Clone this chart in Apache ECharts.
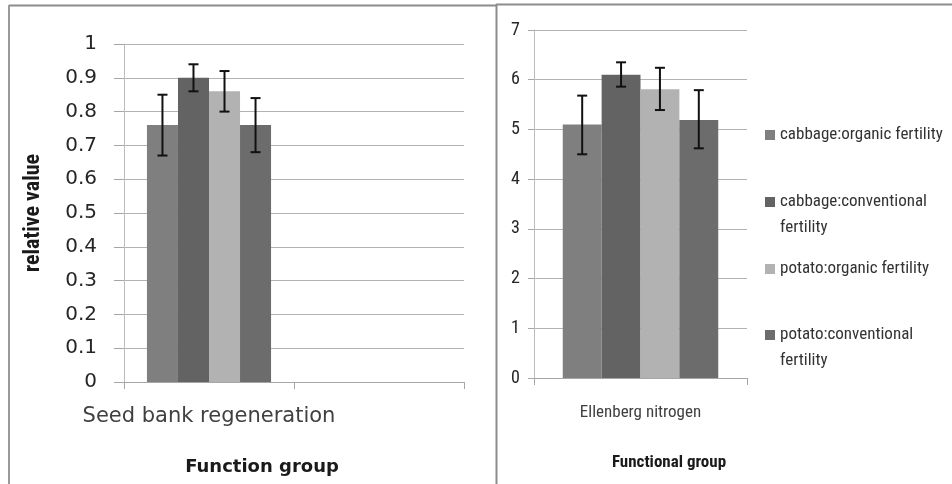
<!DOCTYPE html>
<html>
<head>
<meta charset="utf-8">
<script src="https://cdn.jsdelivr.net/npm/echarts@6/dist/echarts.min.js"></script>
<style>html,body{margin:0;padding:0;background:#fff;}#c{width:952px;height:484px;}</style>
</head>
<body>
<div id="c"></div>
<script>
// ---- data ----
var seriesNames = ['cabbage:organic fertility', 'cabbage:conventional fertility', 'potato:organic fertility', 'potato:conventional fertility'];
var leftCategories = ['Seed bank regeneration', ''];
var rightCategories = ['Ellenberg nitrogen'];
var leftValues = [0.76, 0.90, 0.86, 0.76];
var leftErrLow = [0.67, 0.86, 0.80, 0.68];
var leftErrHigh = [0.85, 0.94, 0.92, 0.84];
var rightValues = [5.10, 6.10, 5.81, 5.19];
var rightErrLow = [4.50, 5.86, 5.39, 4.62];
var rightErrHigh = [5.68, 6.35, 6.24, 5.79];
var leftYTicks = {min: 0, max: 1, interval: 0.1};
var rightYTicks = {min: 0, max: 7, interval: 1};

var colors = ['#7f7f7f', '#636363', '#b2b2b2', '#6c6c6c'];
var CAT_GAP = 0.27;
var narrow = "'Liberation Sans Narrow', 'Roboto Condensed', Roboto, sans-serif";
var wide = "'DejaVu Sans', Verdana, sans-serif";

var chart = echarts.init(document.getElementById('c'));

function errRender(seriesIdx) {
  return function (params, api) {
    var cat = api.value(0);
    var lo = api.coord([cat, api.value(1)]);
    var hi = api.coord([cat, api.value(2)]);
    var band = api.size([1, 0])[0];
    var total = band * (1 - CAT_GAP);
    var each = total / 4;
    var x = lo[0] - total / 2 + (seriesIdx + 0.5) * each;
    var cap = 5;
    var st = {stroke: '#111', lineWidth: 2};
    return {
      type: 'group',
      children: [
        {type: 'line', shape: {x1: x, y1: lo[1], x2: x, y2: hi[1]}, style: st},
        {type: 'line', shape: {x1: x - cap, y1: lo[1], x2: x + cap, y2: lo[1]}, style: st},
        {type: 'line', shape: {x1: x - cap, y1: hi[1], x2: x + cap, y2: hi[1]}, style: st}
      ]
    };
  };
}

var series = [];
var grayAxis = {lineStyle: {color: '#a6a6a6', width: 1}};
seriesNames.forEach(function (name, i) {
  var ld = [leftValues[i]];
  for (var k = 1; k < leftCategories.length; k++) ld.push('-');
  series.push({
    name: name, type: 'bar', xAxisIndex: 0, yAxisIndex: 0,
    data: ld, barGap: '0%', barCategoryGap: (CAT_GAP * 100) + '%',
    itemStyle: {color: colors[i]}, silent: true
  });
  series.push({
    name: name, type: 'bar', xAxisIndex: 1, yAxisIndex: 1,
    data: [rightValues[i]], barGap: '0%', barCategoryGap: (CAT_GAP * 100) + '%',
    itemStyle: {color: colors[i]}, silent: true
  });
  series.push({
    type: 'custom', xAxisIndex: 0, yAxisIndex: 0, z: 5, silent: true,
    renderItem: errRender(i), data: [[0, leftErrLow[i], leftErrHigh[i]]]
  });
  series.push({
    type: 'custom', xAxisIndex: 1, yAxisIndex: 1, z: 5, silent: true,
    renderItem: errRender(i), data: [[0, rightErrLow[i], rightErrHigh[i]]]
  });
});

// first-line centre of each legend entry
var legendTops = [135, 202, 269, 335];
var LH = 26;
var legends = seriesNames.map(function (name, i) {
  var two = name.indexOf('conventional') >= 0;
  return {
    data: [name], left: 765, top: legendTops[i] - LH / 2, padding: 0,
    icon: two ? 'path://M0,0M10,52M0,8h10v10h-10z' : 'rect',
    itemWidth: 10, itemHeight: two ? 52 : 10, itemGap: 0,
    selectedMode: false,
    formatter: function (n) { return n.replace('conventional fertility', 'conventional\nfertility'); },
    textStyle: {fontFamily: narrow, fontSize: 17, color: '#333', lineHeight: LH}
  };
});

var option = {
  animation: false,
  grid: [
    {left: 124, top: 44, width: 340, height: 338},
    {left: 534, top: 30, width: 213, height: 348}
  ],
  xAxis: [
    {type: 'category', gridIndex: 0, data: leftCategories,
     axisLine: grayAxis, axisTick: {show: true, length: 7, lineStyle: {color: '#a6a6a6'}},
     axisLabel: {interval: 0, margin: 24, fontFamily: wide, fontSize: 21, color: '#404040'}},
    {type: 'category', gridIndex: 1, data: rightCategories,
     axisLine: grayAxis, axisTick: {show: true, length: 7, lineStyle: {color: '#a6a6a6'}},
     axisLabel: {interval: 0, margin: 26, fontFamily: narrow, fontSize: 17, color: '#404040'}}
  ],
  yAxis: [
    {type: 'value', gridIndex: 0, min: leftYTicks.min, max: leftYTicks.max, interval: leftYTicks.interval,
     axisLine: {show: true, lineStyle: {color: '#bdbdbd'}},
     axisTick: {show: true, length: 10, lineStyle: {color: '#a6a6a6'}},
     splitLine: {lineStyle: {color: '#b3b3b3'}},
     axisLabel: {margin: 27, fontFamily: wide, fontSize: 20, color: '#262626'}},
    {type: 'value', gridIndex: 1, min: rightYTicks.min, max: rightYTicks.max, interval: rightYTicks.interval,
     axisLine: {show: true, lineStyle: {color: '#bdbdbd'}},
     axisTick: {show: true, length: 6, lineStyle: {color: '#a6a6a6'}},
     splitLine: {lineStyle: {color: '#b3b3b3'}},
     axisLabel: {margin: 14, fontFamily: narrow, fontSize: 18, color: '#262626'}}
  ],
  legend: legends,
  series: series,
  graphic: [
    {type: 'line', shape: {x1: 9, y1: 5.5, x2: 496, y2: 5.5}, style: {stroke: '#8c8c8c', lineWidth: 2}, silent: true},
    {type: 'line', shape: {x1: 9, y1: 5, x2: 9, y2: 484}, style: {stroke: '#9a9a9a', lineWidth: 2}, silent: true},
    {type: 'line', shape: {x1: 496.5, y1: 4, x2: 496.5, y2: 484}, style: {stroke: '#8c8c8c', lineWidth: 2}, silent: true},
    {type: 'line', shape: {x1: 496, y1: 4.5, x2: 952, y2: 4.5}, style: {stroke: '#8c8c8c', lineWidth: 2}, silent: true},
    {type: 'text', style: {text: 'Function group', x: 262, y: 467, align: 'center', verticalAlign: 'middle',
      font: 'bold 18px ' + wide, fill: '#1a1a1a'}, silent: true},
    {type: 'text', style: {text: 'Functional group', x: 669, y: 463, align: 'center', verticalAlign: 'middle',
      font: 'bold 17px ' + narrow, fill: '#1a1a1a'}, silent: true},
    {type: 'text', rotation: Math.PI / 2, x: 33, y: 213, style: {text: 'relative value', x: 0, y: 0, align: 'center', verticalAlign: 'middle',
      font: 'bold 22px ' + narrow, fill: '#1a1a1a'}, silent: true}
  ]
};
chart.setOption(option);
</script>
</body>
</html>
